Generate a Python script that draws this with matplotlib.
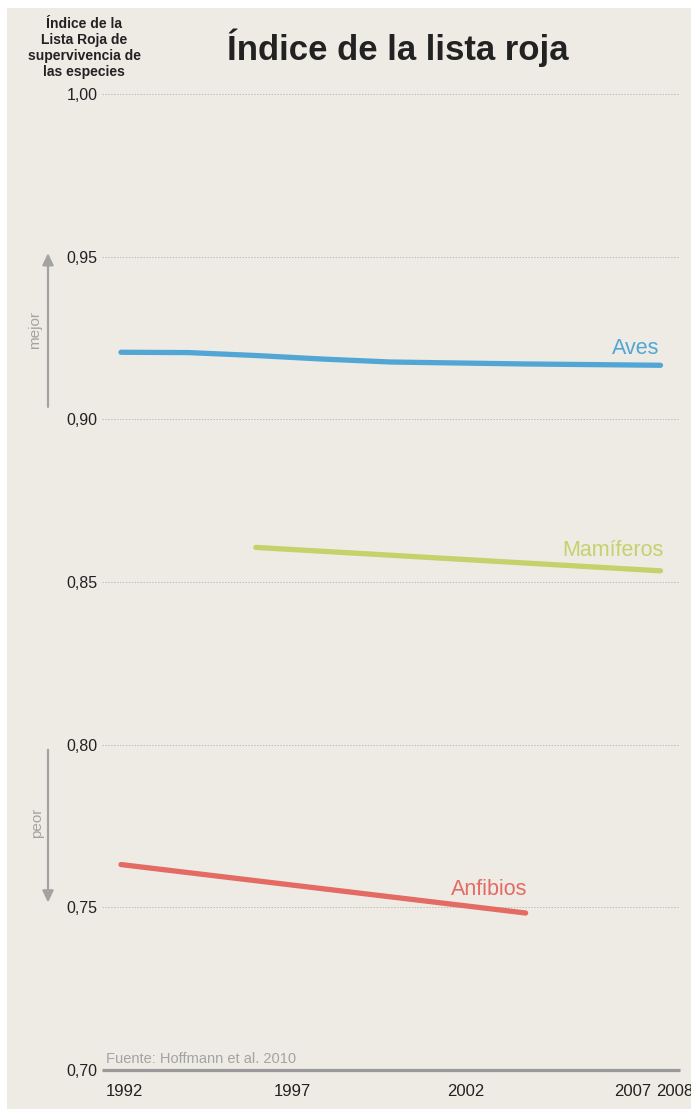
import matplotlib
matplotlib.use("Agg")
import matplotlib.pyplot as plt
import matplotlib.transforms as mtransforms
from matplotlib.patches import Rectangle

# Data
aves_years = [1992, 1994, 1996, 1998, 2000, 2002, 2004, 2006, 2008]
aves_vals = [0.9206, 0.9205, 0.9196, 0.9185, 0.9176, 0.9173, 0.9170, 0.9168, 0.9166]
mamiferos_years = [1996, 2008]
mamiferos_vals = [0.8606, 0.8534]
anfibios_years = [1992, 2004]
anfibios_vals = [0.7631, 0.7482]

series_names = ["Aves", "Mamíferos", "Anfibios"]
series_colors = ["#52A6D6", "#C3D26B", "#E36B63"]

x_ticks = [1992, 1997, 2002, 2007, 2008]
y_ticks = [0.70, 0.75, 0.80, 0.85, 0.90, 0.95, 1.00]
y_tick_labels = ["0,70", "0,75", "0,80", "0,85", "0,90", "0,95", "1,00"]

title = "Índice de la lista roja"
y_title = "Índice de la\nLista Roja de\nsupervivencia de\nlas especies"
source = "Fuente: Hoffmann et al. 2010"

BG = "#EEEBE5"
GREY = "#A3A3A3"
TXT = "#222222"
NARROW = ["Liberation Sans Narrow", "Liberation Sans", "DejaVu Sans"]

plt.rcParams["font.family"] = ["Liberation Sans", "DejaVu Sans"]

W, H = 691, 1109
fig = plt.figure(figsize=(W / 100, H / 100), dpi=100)
fig.patch.set_facecolor("white")
fig.patches.append(Rectangle((7 / W, 0), 1 - 7 / W, (H - 8) / H,
                             transform=fig.transFigure, facecolor=BG,
                             edgecolor="none", zorder=-10))

ax = fig.add_axes([102 / W, (H - 1069.8) / H, 578 / W, (1069.8 - 94) / H])
ax.set_facecolor("none")
ax.set_xlim(1991.437, 2008.578)
ax.set_ylim(0.70, 1.00)

# grid
for v in y_ticks[1:]:
    ax.axhline(v, color="#BDBDBD", lw=0.7, ls=(0, (1.5, 1.5)), zorder=1)

for s in ["top", "right", "left"]:
    ax.spines[s].set_visible(False)
ax.spines["bottom"].set_color("#999999")
ax.spines["bottom"].set_linewidth(2.3)
ax.spines["bottom"].set_capstyle("butt")

ax.set_yticks(y_ticks)
ax.set_yticklabels(y_tick_labels)
ax.set_xticks(x_ticks)
ax.set_xticklabels([str(y) for y in x_ticks])
ax.tick_params(axis="y", length=0, pad=3, labelsize=11.5, labelcolor=TXT)
ax.tick_params(axis="x", length=0, pad=10, labelsize=12, labelcolor=TXT)

# x labels sit a bit right of their tick in the original
label_shift = [3, 3, 8, 6, 14]
for lab, dx in zip(ax.get_xticklabels(), label_shift):
    lab.set_transform(lab.get_transform() +
                      mtransforms.ScaledTranslation(dx / 100, 0, fig.dpi_scale_trans))

# series
data = [(aves_years, aves_vals), (mamiferos_years, mamiferos_vals),
        (anfibios_years, anfibios_vals)]
label_offsets = [(-1, 11), (3, 15), (2, 18)]
for (xs, ys), name, col, off in zip(data, series_names, series_colors, label_offsets):
    ax.plot(xs, ys, color=col, lw=3.8, solid_capstyle="round",
            solid_joinstyle="round", zorder=3)
    ax.annotate(name, xy=(xs[-1], ys[-1]), xytext=off, textcoords="offset pixels",
                ha="right", va="baseline", fontsize=15.5, color=col)

# source
ax.annotate(source, xy=(0, 0), xycoords="axes fraction", xytext=(4, 7),
            textcoords="offset pixels", ha="left", va="baseline",
            fontsize=10.5, color=GREY)

# better / worse arrows left of the axis
blend = mtransforms.blended_transform_factory(ax.transAxes, ax.transData)
arrow_x = -54 / 578
ax.annotate("", xy=(arrow_x, 0.9511), xytext=(arrow_x, 0.9038),
            xycoords=blend, textcoords=blend, annotation_clip=False,
            arrowprops=dict(arrowstyle="-|>,head_length=0.7,head_width=0.33",
                            mutation_scale=10, color=GREY, lw=1.6,
                            shrinkA=0, shrinkB=0))
ax.annotate("", xy=(arrow_x, 0.7514), xytext=(arrow_x, 0.7984),
            xycoords=blend, textcoords=blend, annotation_clip=False,
            arrowprops=dict(arrowstyle="-|>,head_length=0.7,head_width=0.33",
                            mutation_scale=10, color=GREY, lw=1.6,
                            shrinkA=0, shrinkB=0))
ax.text(-67 / 578, 0.9275, "mejor", transform=blend, rotation=90,
        ha="center", va="center", fontsize=11, color=GREY)
ax.text(-65 / 578, 0.776, "peor", transform=blend, rotation=90,
        ha="center", va="center", fontsize=11, color=GREY)

# titles
fig.text(398 / W, 1 - 48 / H, title, ha="center", va="center",
         fontsize=25, fontweight="bold", color=TXT, family=NARROW)
fig.text(84 / W, 1 - 48 / H, y_title, ha="center", va="center",
         fontsize=10, fontweight="bold", color=TXT, family=NARROW,
         linespacing=1.2)

fig.savefig("out.png", dpi=100, facecolor=fig.get_facecolor())
